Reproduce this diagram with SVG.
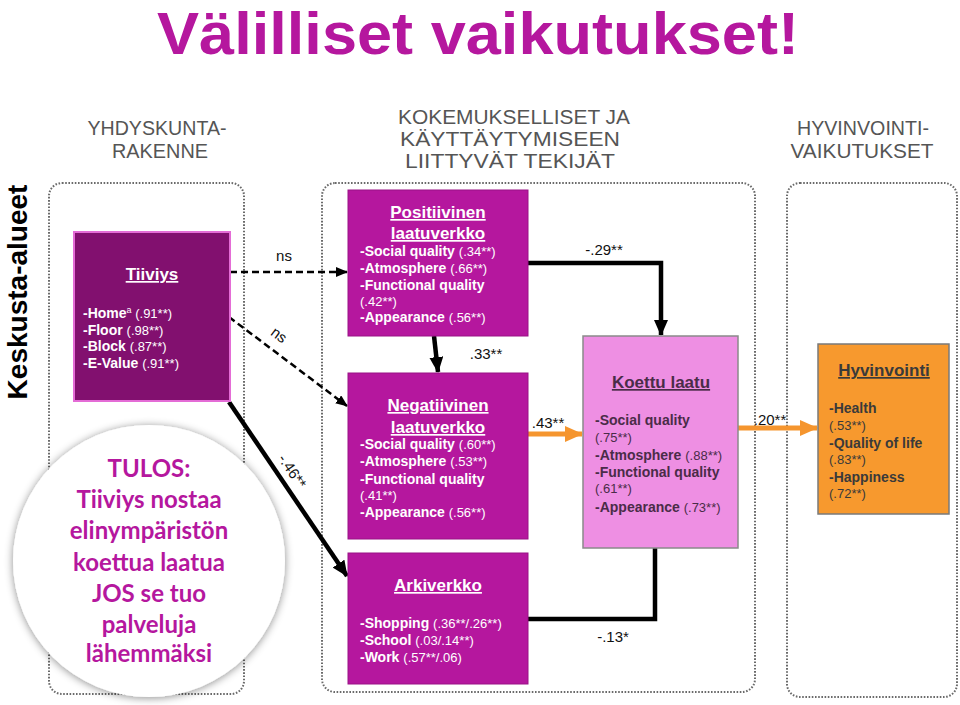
<svg xmlns="http://www.w3.org/2000/svg" width="960" height="705" viewBox="0 0 960 705">
<style>
  .hdr{font-family:"Liberation Sans",Arial,sans-serif;font-size:20px;fill:#555;text-anchor:middle}
  .cont{fill:none;stroke:#6a6a6a;stroke-width:2;stroke-dasharray:1.6 1.6}
  .box{stroke:#9a1386;stroke-width:1}
  .ttl{font-family:"Liberation Sans",Arial,sans-serif;font-size:17px;font-weight:bold;text-anchor:middle;text-decoration:underline}
  .it{font-family:"Liberation Sans",Arial,sans-serif;font-size:14px;font-weight:bold}
  .v{font-weight:normal;font-size:13px}
  .w{fill:#fff}
  .dk{fill:#4a2c48}
  .gy{fill:#3a3a3a}
  .lbl{font-family:"Liberation Sans",Arial,sans-serif;font-size:15px;fill:#111}
  .thick{fill:none;stroke:#000;stroke-width:4.5}
  .dash{fill:none;stroke:#000;stroke-width:2.5;stroke-dasharray:7 4}
  .org{fill:none;stroke:#F5952E;stroke-width:5}
  .tulos{font-family:Lato,"Open Sans",sans-serif;font-size:24px;font-weight:bold;fill:#B5179E;text-anchor:middle}
</style>
<defs>
  <marker id="aBlack" markerUnits="userSpaceOnUse" markerWidth="16" markerHeight="14" refX="15" refY="7" orient="auto">
    <path d="M0,0 L16,7 L0,14 z" fill="#000"/>
  </marker>
  <marker id="aDash" markerUnits="userSpaceOnUse" markerWidth="12" markerHeight="10" refX="11" refY="5" orient="auto">
    <path d="M0,0 L12,5 L0,10 z" fill="#000"/>
  </marker>
  <marker id="aOrg" markerUnits="userSpaceOnUse" markerWidth="18" markerHeight="16" refX="17" refY="8" orient="auto">
    <path d="M0,0 L18,8 L0,16 z" fill="#F5952E"/>
  </marker>
  <filter id="shadow" x="-20%" y="-20%" width="140%" height="140%">
    <feGaussianBlur in="SourceAlpha" stdDeviation="4"/>
    <feOffset dx="0" dy="1" result="b"/>
    <feFlood flood-color="#000" flood-opacity="0.45"/>
    <feComposite in2="b" operator="in"/>
    <feMerge><feMergeNode/><feMergeNode in="SourceGraphic"/></feMerge>
  </filter>
</defs>
<rect width="960" height="705" fill="#fff"/>

<text x="478" y="54" font-family="'Liberation Sans',Arial,sans-serif" font-size="60" font-weight="bold" fill="#B5179E" text-anchor="middle" textLength="642" lengthAdjust="spacingAndGlyphs">Välilliset vaikutukset!</text>

<g id="headers">
  <text class="hdr" x="157" y="135" textLength="139" lengthAdjust="spacingAndGlyphs">YHDYSKUNTA-</text>
  <text class="hdr" x="160" y="158" textLength="96" lengthAdjust="spacingAndGlyphs">RAKENNE</text>
  <text class="hdr" x="514" y="124" textLength="232" lengthAdjust="spacingAndGlyphs">KOKEMUKSELLISET JA</text>
  <text class="hdr" x="510" y="146" textLength="220" lengthAdjust="spacingAndGlyphs">KÄYTTÄYTYMISEEN</text>
  <text class="hdr" x="510" y="168" textLength="210" lengthAdjust="spacingAndGlyphs">LIITTYVÄT TEKIJÄT</text>
  <text class="hdr" x="863" y="135" textLength="132" lengthAdjust="spacingAndGlyphs">HYVINVOINTI-</text>
  <text class="hdr" x="862" y="158" textLength="143" lengthAdjust="spacingAndGlyphs">VAIKUTUKSET</text>
</g>

<text transform="translate(27,292) rotate(-90)" font-family="'Liberation Sans',Arial,sans-serif" font-size="28" font-weight="bold" fill="#000" text-anchor="middle">Keskusta-alueet</text>

<g id="containers">
  <rect class="cont" x="49" y="183" width="195" height="511" rx="13"/>
  <rect class="cont" x="322" y="183" width="433" height="509" rx="13"/>
  <rect class="cont" x="787" y="183" width="170" height="514" rx="13"/>
</g>

<g id="connectors">
  <line class="dash" x1="230" y1="272" x2="347" y2="272" marker-end="url(#aDash)"/>
  <line class="dash" x1="229" y1="317" x2="347" y2="406" marker-end="url(#aDash)"/>
  <line class="thick" x1="229" y1="402" x2="347" y2="576" marker-end="url(#aBlack)"/>
  <line class="thick" x1="434" y1="336" x2="438" y2="372" marker-end="url(#aBlack)"/>
  <polyline class="thick" points="528,263 661,263 661,335" marker-end="url(#aBlack)"/>
  <line class="org" x1="528" y1="434" x2="582" y2="434" marker-end="url(#aOrg)"/>
  <line class="org" x1="738" y1="428" x2="817" y2="428" marker-end="url(#aOrg)"/>
  <polyline class="thick" points="526,619 655,619 655,548"/>
  <text class="lbl" x="284" y="261" text-anchor="middle">ns</text>
  <text class="lbl" transform="translate(276,339) rotate(37)" text-anchor="middle">ns</text>
  <text class="lbl" transform="translate(288,474) rotate(56)" text-anchor="middle">-.46**</text>
  <text class="lbl" x="486" y="359" text-anchor="middle">.33**</text>
  <text class="lbl" x="604" y="255" text-anchor="middle">-.29**</text>
  <text class="lbl" x="548" y="428" text-anchor="middle">.43**</text>
  <text class="lbl" x="770" y="425" text-anchor="middle">.20**</text>
  <text class="lbl" x="613" y="642" text-anchor="middle">-.13*</text>
</g>

<g id="tiiviys">
  <rect x="74" y="232" width="156" height="169" fill="#82106F" stroke="#E46CD6" stroke-width="2"/>
  <text class="ttl w" x="152" y="280">Tiiviys</text>
  <text class="it w" x="83" y="318">-Home<tspan font-size="9" font-weight="normal" dy="-5">a</tspan><tspan class="v" dy="5"> (.91**)</tspan></text>
  <text class="it w" x="83" y="335">-Floor <tspan class="v">(.98**)</tspan></text>
  <text class="it w" x="83" y="351">-Block <tspan class="v">(.87**)</tspan></text>
  <text class="it w" x="83" y="368">-E-Value <tspan class="v">(.91**)</tspan></text>
</g>

<g id="tulos">
  <circle cx="149" cy="561" r="136" fill="#fff" filter="url(#shadow)"/>
  <text class="tulos" x="149" y="477">TULOS:</text>
  <text class="tulos" x="149" y="508">Tiiviys nostaa</text>
  <text class="tulos" x="149" y="539">elinympäristön</text>
  <text class="tulos" x="149" y="571">koettua laatua</text>
  <text class="tulos" x="149" y="602">JOS se tuo</text>
  <text class="tulos" x="149" y="633">palveluja</text>
  <text class="tulos" x="149" y="662">lähemmäksi</text>
</g>

<g id="positiivinen">
  <rect class="box" x="348" y="190" width="180" height="146" fill="#B5179E"/>
  <text class="ttl w" x="438" y="218">Positiivinen</text>
  <text class="ttl w" x="438" y="239">laatuverkko</text>
  <text class="it w" x="360" y="256">-Social quality <tspan class="v">(.34**)</tspan></text>
  <text class="it w" x="360" y="273">-Atmosphere <tspan class="v">(.66**)</tspan></text>
  <text class="it w" x="360" y="290">-Functional quality</text>
  <text class="it w v" x="360" y="306">(.42**)</text>
  <text class="it w" x="360" y="322">-Appearance <tspan class="v">(.56**)</tspan></text>
</g>

<g id="negatiivinen">
  <rect class="box" x="348" y="373" width="180" height="166" fill="#B5179E"/>
  <text class="ttl w" x="438" y="411">Negatiivinen</text>
  <text class="ttl w" x="438" y="433">laatuverkko</text>
  <text class="it w" x="360" y="449">-Social quality <tspan class="v">(.60**)</tspan></text>
  <text class="it w" x="360" y="466">-Atmosphere <tspan class="v">(.53**)</tspan></text>
  <text class="it w" x="360" y="484">-Functional quality</text>
  <text class="it w v" x="360" y="500">(.41**)</text>
  <text class="it w" x="360" y="517">-Appearance <tspan class="v">(.56**)</tspan></text>
</g>

<g id="arkiverkko">
  <rect class="box" x="348" y="553" width="180" height="131" fill="#B5179E"/>
  <text class="ttl w" x="438" y="591">Arkiverkko</text>
  <text class="it w" x="360" y="628">-Shopping <tspan class="v">(.36**/.26**)</tspan></text>
  <text class="it w" x="360" y="645">-School <tspan class="v">(.03/.14**)</tspan></text>
  <text class="it w" x="360" y="662">-Work <tspan class="v">(.57**/.06)</tspan></text>
</g>

<g id="koettu">
  <rect x="583" y="336" width="155" height="212" fill="#EE8FE3" stroke="#8a8a8a" stroke-width="1.5"/>
  <text class="ttl dk" x="661" y="388">Koettu laatu</text>
  <text class="it dk" x="595" y="425">-Social quality</text>
  <text class="it dk v" x="595" y="442">(.75**)</text>
  <text class="it dk" x="595" y="460">-Atmosphere <tspan class="v">(.88**)</tspan></text>
  <text class="it dk" x="595" y="477">-Functional quality</text>
  <text class="it dk v" x="595" y="493">(.61**)</text>
  <text class="it dk" x="595" y="512">-Appearance <tspan class="v">(.73**)</tspan></text>
</g>

<g id="hyvinvointi">
  <rect x="818" y="344" width="131" height="170" fill="#F7992E" stroke="#7a7a7a" stroke-width="1.5"/>
  <text class="ttl gy" x="884" y="376">Hyvinvointi</text>
  <text class="it gy" x="829" y="413">-Health</text>
  <text class="it gy v" x="829" y="430">(.53**)</text>
  <text class="it gy" x="829" y="448">-Quality of life</text>
  <text class="it gy v" x="829" y="464">(.83**)</text>
  <text class="it gy" x="829" y="482">-Happiness</text>
  <text class="it gy v" x="829" y="498">(.72**)</text>
</g>
</svg>
